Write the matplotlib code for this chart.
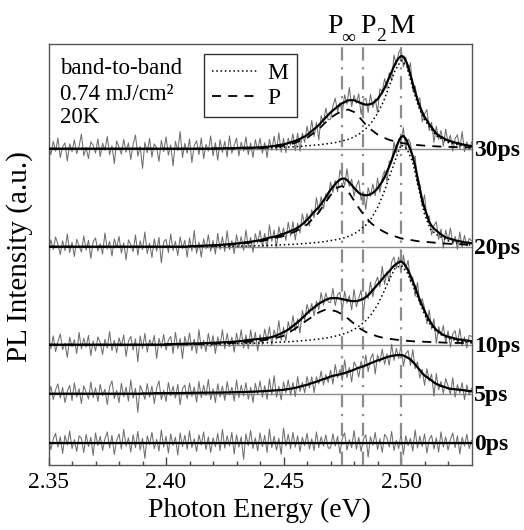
import numpy as np
import matplotlib
matplotlib.use('Agg')
import matplotlib.pyplot as plt

plt.rcParams['font.family'] = ['Liberation Serif', 'DejaVu Serif']

# ---------------- data ----------------
# photon energy grid of the measured spectra (eV), 1 meV steps
energy = np.linspace(2.35, 2.53, 181)
# energy grid of the fitted components (eV)
energy_fit = np.array([
    2.35, 2.36, 2.37, 2.38, 2.39, 2.40, 2.41, 2.42, 2.43, 2.44,
    2.445, 2.45, 2.455, 2.46, 2.465, 2.4675, 2.47, 2.4725, 2.475, 2.4775,
    2.48, 2.4825, 2.485, 2.4875, 2.49, 2.4925, 2.495, 2.4975, 2.50, 2.5025,
    2.505, 2.5075, 2.51, 2.5125, 2.515, 2.52, 2.525, 2.53])

delays = ['30ps', '20ps', '10ps', '5ps', '0ps']
offsets = [6, 4, 2, 1, 0]

# total fit (solid) on the spectrum grid
fit_30 = [0.0] * 70 + [0.005] * 5 + [0.01] * 5 + [
    0.015, 0.015, 0.015, 0.02, 0.02, 0.02, 0.02, 0.02, 0.025, 0.025,
    0.03, 0.03, 0.035, 0.04, 0.045, 0.05, 0.055, 0.065, 0.075, 0.08,
    0.09, 0.10, 0.115, 0.13, 0.145, 0.16, 0.18, 0.20, 0.23, 0.25,
    0.28, 0.32, 0.36, 0.40, 0.44, 0.48, 0.535, 0.59, 0.64, 0.69,
    0.74, 0.78, 0.82, 0.86, 0.90, 0.93, 0.95, 0.98, 0.99, 0.99,
    0.99, 0.97, 0.95, 0.93, 0.91, 0.90, 0.90, 0.91, 0.93, 0.97,
    1.01, 1.08, 1.15, 1.24, 1.35, 1.46, 1.57, 1.68, 1.78, 1.85,
    1.89, 1.88, 1.80, 1.68, 1.51, 1.33, 1.16, 1.00, 0.86, 0.75,
    0.65, 0.58, 0.50, 0.44, 0.37, 0.31, 0.27, 0.24, 0.22, 0.19,
    0.17, 0.155, 0.14, 0.125, 0.115, 0.10, 0.09, 0.08, 0.07, 0.06,
    0.055]
fit_20 = [0.0] * 60 + [
    0.01, 0.01, 0.012, 0.014, 0.016, 0.018, 0.02, 0.022, 0.024, 0.026,
    0.028, 0.03, 0.033, 0.036, 0.04, 0.043, 0.047, 0.051, 0.055, 0.06,
    0.065, 0.07, 0.075, 0.085, 0.09, 0.095, 0.10, 0.11, 0.115, 0.125,
    0.13, 0.145, 0.16, 0.17, 0.185, 0.195, 0.20, 0.215, 0.23, 0.25,
    0.265, 0.28, 0.30, 0.32, 0.34, 0.36, 0.39, 0.42, 0.46, 0.50,
    0.55, 0.60, 0.655, 0.71, 0.76, 0.81, 0.87, 0.94, 1.01, 1.09,
    1.16, 1.22, 1.28, 1.33, 1.37, 1.39, 1.39, 1.36, 1.31, 1.26,
    1.20, 1.15, 1.10, 1.07, 1.055, 1.05, 1.055, 1.07, 1.10, 1.14,
    1.19, 1.26, 1.33, 1.42, 1.53, 1.64, 1.77, 1.90, 2.04, 2.15,
    2.24, 2.26, 2.20, 2.10, 1.98, 1.84, 1.65, 1.42, 1.18, 0.95,
    0.79, 0.65, 0.50, 0.43, 0.37, 0.33, 0.29, 0.25, 0.22, 0.19,
    0.175, 0.16, 0.145, 0.13, 0.12, 0.11, 0.10, 0.09, 0.085, 0.08,
    0.07]
fit_10 = [0.0] * 50 + [
    0.01, 0.01, 0.01, 0.012, 0.014, 0.015, 0.016, 0.017, 0.018, 0.019,
    0.02, 0.02, 0.022, 0.024, 0.026, 0.028, 0.03, 0.03, 0.032, 0.034,
    0.036, 0.038, 0.04, 0.042, 0.045, 0.048, 0.05, 0.053, 0.056, 0.06,
    0.065, 0.07, 0.075, 0.08, 0.09, 0.095, 0.10, 0.105, 0.11, 0.115,
    0.12, 0.125, 0.13, 0.14, 0.145, 0.155, 0.17, 0.19, 0.21, 0.23,
    0.255, 0.28, 0.31, 0.345, 0.38, 0.42, 0.46, 0.50, 0.55, 0.59,
    0.64, 0.69, 0.72, 0.76, 0.80, 0.835, 0.865, 0.89, 0.915, 0.935,
    0.95, 0.95, 0.95, 0.95, 0.94, 0.93, 0.92, 0.91, 0.90, 0.89,
    0.89, 0.89, 0.90, 0.92, 0.94, 0.97, 1.01, 1.06, 1.12, 1.17,
    1.23, 1.28, 1.34, 1.40, 1.45, 1.50, 1.56, 1.61, 1.65, 1.68,
    1.70, 1.67, 1.60, 1.52, 1.41, 1.29, 1.18, 1.04, 0.91, 0.80,
    0.69, 0.59, 0.50, 0.43, 0.36, 0.30, 0.27, 0.23, 0.20, 0.18,
    0.165, 0.15, 0.14, 0.125, 0.11, 0.105, 0.10, 0.09, 0.085, 0.08,
    0.07]
fit_5 = [0.0] * 40 + [
    0.005, 0.005, 0.005, 0.005, 0.005, 0.01, 0.01, 0.01, 0.01, 0.01,
    0.01, 0.01, 0.01, 0.01, 0.012, 0.012, 0.014, 0.014, 0.015, 0.015,
    0.015, 0.016, 0.017, 0.018, 0.019, 0.02, 0.02, 0.02, 0.02, 0.02,
    0.02, 0.022, 0.022, 0.024, 0.024, 0.025, 0.026, 0.028, 0.03, 0.03,
    0.03, 0.03, 0.032, 0.034, 0.035, 0.037, 0.039, 0.04, 0.042, 0.045,
    0.05, 0.05, 0.053, 0.056, 0.06, 0.063, 0.066, 0.07, 0.073, 0.076,
    0.08, 0.087, 0.094, 0.10, 0.11, 0.12, 0.132, 0.145, 0.16, 0.17,
    0.18, 0.20, 0.215, 0.23, 0.245, 0.26, 0.28, 0.30, 0.31, 0.33,
    0.35, 0.365, 0.375, 0.385, 0.395, 0.41, 0.42, 0.44, 0.455, 0.47,
    0.49, 0.51, 0.53, 0.545, 0.56, 0.58, 0.60, 0.62, 0.64, 0.66,
    0.68, 0.69, 0.71, 0.73, 0.745, 0.76, 0.77, 0.78, 0.785, 0.79,
    0.79, 0.78, 0.755, 0.73, 0.70, 0.65, 0.60, 0.54, 0.48, 0.42,
    0.37, 0.34, 0.30, 0.27, 0.23, 0.20, 0.18, 0.16, 0.145, 0.13,
    0.11, 0.10, 0.095, 0.09, 0.085, 0.08, 0.075, 0.07, 0.06, 0.055,
    0.05]
fit_0 = [0.0] * 181

# residual of the measured spectrum around the fit
resid_30 = [
    0.08, -0.12, 0.15, -0.05, 0.22, -0.18, 0.04, 0.12, -0.25, 0.10,
    -0.06, 0.18, -0.10, 0.05, 0.30, -0.14, 0.02, -0.20, 0.14, 0.07,
    -0.09, 0.20, -0.16, 0.11, -0.03, 0.25, -0.12, 0.06, -0.30, 0.16,
    0.03, -0.11, 0.19, -0.07, 0.12, -0.22, 0.09, 0.28, -0.15, 0.05,
    -0.40, 0.13, -0.08, 0.21, -0.17, 0.10, 0.02, -0.26, 0.17, -0.06,
    0.24, -0.13, 0.08, -0.35, 0.15, -0.04, 0.35, -0.18, 0.11, -0.09,
    0.20, -0.28, 0.07, 0.16, -0.12, 0.22, -0.20, 0.09, -0.05, 0.26,
    -0.15, 0.12, -0.24, 0.18, -0.08, 0.14, -0.18, 0.25, -0.10, 0.06,
    0.20, -0.16, 0.12, -0.07, 0.22, -0.14, 0.10, -0.20, 0.16, -0.05,
    0.18, -0.12, 0.09, -0.22, 0.15, -0.08, 0.20, -0.10, 0.25, -0.15,
    0.12, -0.18, 0.10, -0.06, 0.16, -0.20, 0.14, -0.25, 0.09, -0.12,
    0.18, -0.08, 0.22, -0.15, 0.10, -0.30, 0.14, -0.06, 0.19, -0.10,
    -0.14, 0.09, 0.21, -0.11, 0.04, -0.19, 0.15, -0.07, 0.26, -0.13,
    0.10, -0.04, 0.17, -0.23, 0.08, 0.13, -0.16, 0.20, -0.09, 0.05,
    -0.27, 0.14, 0.02, 0.19, -0.12, 0.09, -0.18, 0.23, -0.06, 0.11,
    0.16, -0.21, 0.07, -0.10, 0.24, -0.15, 0.12, -0.03, 0.18, -0.20,
    0.06, 0.22, -0.13, 0.10, -0.24, 0.15, -0.08, 0.13, -0.17, 0.21,
    -0.05, 0.12, -0.19, 0.08, 0.17, -0.11, 0.26, -0.14, 0.07, -0.09,
    0.08]
resid_20 = [
    -0.10, 0.14, -0.06, 0.20, 0.05, -0.16, 0.12, -0.08, 0.26, -0.12,
    0.09, -0.20, 0.15, 0.02, -0.11, 0.22, -0.07, 0.13, -0.24, 0.10,
    0.18, -0.09, 0.06, -0.15, 0.28, -0.05, 0.11, -0.19, 0.16, -0.02,
    0.21, -0.13, 0.08, -0.27, 0.14, 0.04, -0.10, 0.24, -0.17, 0.12,
    -0.06, 0.30, -0.14, 0.07, -0.22, 0.16, -0.09, 0.19, -0.33, 0.10,
    0.15, -0.12, 0.26, -0.08, 0.11, -0.18, 0.20, -0.04, 0.13, -0.21,
    0.17, -0.10, 0.32, -0.15, 0.08, -0.23, 0.14, -0.06, 0.22, -0.12,
    0.10, -0.18, 0.24, -0.09, 0.16, -0.14, 0.28, -0.11, 0.07, -0.20,
    0.18, -0.08, 0.13, -0.16, 0.25, -0.10, 0.09, -0.22, 0.15, -0.05,
    0.20, -0.14, 0.11, -0.19, 0.26, -0.09, 0.14, -0.24, 0.18, -0.07,
    0.12, -0.15, 0.20, -0.10, 0.17, -0.22, 0.09, -0.14, 0.21, -0.06,
    0.13, -0.18, 0.10, -0.12, 0.24, -0.08, 0.15, -0.16, 0.07, -0.11,
    0.16, -0.11, 0.07, -0.21, 0.19, 0.03, -0.14, 0.23, -0.08, 0.12,
    -0.17, 0.09, 0.25, -0.12, 0.06, -0.29, 0.15, -0.04, 0.18, -0.10,
    0.21, -0.15, 0.08, 0.13, -0.20, 0.11, -0.06, 0.24, -0.13, 0.05,
    -0.09, 0.17, -0.22, 0.10, 0.14, -0.07, 0.20, -0.16, 0.09, -0.12,
    0.27, -0.08, 0.13, -0.19, 0.06, 0.18, -0.14, 0.11, -0.25, 0.15,
    -0.05, 0.22, -0.10, 0.08, -0.17, 0.19, -0.11, 0.14, -0.07, 0.09,
    0.05]
resid_10 = [
    0.12, -0.08, 0.18, -0.14, 0.06, 0.22, -0.10, 0.03, -0.26, 0.15,
    -0.04, 0.10, -0.18, 0.25, -0.09, 0.13, -0.05, 0.19, -0.22, 0.08,
    -0.13, 0.16, 0.04, -0.20, 0.11, -0.07, 0.27, -0.12, 0.09, -0.16,
    0.14, -0.03, 0.20, -0.24, 0.07, 0.17, -0.11, 0.12, -0.35, 0.18,
    -0.08, 0.23, -0.15, 0.10, -0.02, 0.19, -0.28, 0.13, -0.06, 0.21,
    -0.12, 0.08, 0.16, -0.19, 0.24, -0.10, 0.11, -0.30, 0.15, -0.05,
    0.22, -0.14, 0.09, -0.20, 0.28, -0.11, 0.06, -0.17, 0.20, -0.08,
    0.15, -0.22, 0.12, -0.06, 0.26, -0.13, 0.18, -0.09, 0.10, -0.21,
    0.17, -0.07, 0.23, -0.15, 0.11, -0.18, 0.20, -0.10, 0.14, -0.24,
    0.09, -0.12, 0.19, -0.06, 0.22, -0.16, 0.13, -0.08, 0.28, -0.14,
    0.10, -0.20, 0.16, -0.09, 0.21, -0.13, 0.07, -0.26, 0.15, -0.10,
    0.18, -0.05, 0.12, -0.17, 0.09, -0.12, 0.20, -0.08, 0.14, -0.06,
    -0.09, 0.20, -0.15, 0.07, 0.13, -0.23, 0.17, -0.06, 0.10, -0.18,
    0.24, -0.12, 0.05, 0.19, -0.28, 0.11, -0.07, 0.22, -0.14, 0.08,
    0.15, -0.10, 0.26, -0.17, 0.04, -0.21, 0.13, 0.18, -0.09, 0.11,
    -0.24, 0.16, -0.05, 0.20, -0.13, 0.09, -0.19, 0.23, -0.08, 0.14,
    0.06, -0.16, 0.21, -0.11, 0.17, -0.27, 0.10, -0.04, 0.19, -0.14,
    0.12, -0.20, 0.08, 0.16, -0.09, 0.22, -0.12, 0.07, -0.15, 0.11,
    0.10]
resid_5 = [
    -0.06, 0.15, -0.12, 0.08, 0.20, -0.09, 0.13, -0.18, 0.05, 0.17,
    -0.14, 0.22, -0.07, 0.10, -0.20, 0.16, 0.03, -0.11, 0.24, -0.08,
    0.12, -0.16, 0.19, -0.04, 0.09, -0.22, 0.14, 0.26, -0.10, 0.07,
    -0.18, 0.21, -0.06, 0.13, -0.15, 0.28, -0.09, 0.11, -0.38, 0.17,
    0.04, -0.12, 0.20, -0.08, 0.15, -0.21, 0.10, 0.25, -0.13, 0.06,
    -0.17, 0.22, -0.05, 0.14, -0.10, 0.18, -0.24, 0.09, 0.16, -0.12,
    0.20, -0.07, 0.12, -0.19, 0.23, -0.10, 0.15, -0.06, 0.27, -0.14,
    0.08, -0.20, 0.18, -0.09, 0.13, -0.16, 0.22, -0.05, 0.10, -0.18,
    0.25, -0.11, 0.14, -0.08, 0.19, -0.15, 0.09, -0.22, 0.17, -0.06,
    0.21, -0.12, 0.11, -0.17, 0.24, -0.09, 0.30, -0.14, 0.08, -0.20,
    0.16, -0.07, 0.19, -0.13, 0.12, -0.18, 0.22, -0.10, 0.07, -0.15,
    0.17, -0.08, 0.13, -0.21, 0.10, -0.06, 0.18, -0.12, 0.08, -0.10,
    0.13, -0.17, 0.22, -0.06, 0.10, -0.14, 0.27, -0.11, 0.08, -0.23,
    0.16, 0.04, -0.19, 0.12, -0.08, 0.21, -0.15, 0.09, 0.18, -0.26,
    0.11, -0.05, 0.20, -0.13, 0.07, -0.18, 0.24, -0.10, 0.14, -0.07,
    0.19, -0.22, 0.06, 0.15, -0.12, 0.25, -0.09, 0.11, -0.16, 0.08,
    -0.20, 0.17, -0.04, 0.13, -0.28, 0.21, -0.10, 0.09, -0.14, 0.18,
    0.05, -0.11, 0.23, -0.16, 0.10, -0.07, 0.15, -0.19, 0.12, -0.08,
    0.06]
resid_0 = [
    0.10, -0.14, 0.07, 0.19, -0.09, 0.12, -0.22, 0.15, -0.05, 0.24,
    -0.12, 0.06, -0.18, 0.14, 0.09, -0.20, 0.17, -0.08, 0.11, -0.26,
    0.20, -0.06, 0.13, -0.16, 0.08, 0.22, -0.11, 0.15, -0.24, 0.05,
    0.18, -0.13, 0.27, -0.07, 0.10, -0.19, 0.16, -0.10, 0.23, -0.15,
    0.09, -0.32, 0.14, -0.04, 0.21, -0.12, 0.07, -0.17, 0.26, -0.09,
    0.13, -0.21, 0.18, -0.06, 0.11, -0.25, 0.20, -0.08, 0.15, -0.13,
    0.24, -0.10, 0.08, -0.18, 0.16, -0.05, 0.22, -0.14, 0.12, -0.20,
    0.10, -0.08, 0.19, -0.16, 0.27, -0.11, 0.14, -0.07, 0.21, -0.23,
    0.16, -0.09, 0.12, -0.34, 0.18, -0.06, 0.25, -0.12, 0.10, -0.17,
    0.20, -0.08, 0.15, -0.20, 0.28, -0.10, 0.13, -0.15, 0.09, -0.24,
    0.30, -0.07, 0.17, -0.12, 0.21, -0.09, 0.14, -0.18, 0.11, -0.06,
    0.19, -0.13, 0.08, -0.16, 0.22, -0.10, 0.12, -0.07, 0.16, -0.11,
    -0.11, 0.18, -0.07, 0.13, -0.22, 0.09, 0.20, -0.15, 0.06, -0.10,
    0.25, -0.13, 0.11, -0.18, 0.07, 0.16, -0.29, 0.12, -0.05, 0.21,
    -0.14, 0.08, -0.20, 0.17, 0.10, -0.09, 0.23, -0.16, 0.05, -0.12,
    0.19, -0.24, 0.14, -0.06, 0.09, -0.17, 0.26, -0.11, 0.13, -0.08,
    0.18, -0.21, 0.07, 0.15, -0.13, 0.10, -0.19, 0.22, -0.09, 0.12,
    -0.15, 0.06, 0.20, -0.10, 0.14, -0.23, 0.11, -0.07, 0.17, -0.12,
    0.05]

# fitted components: M (dotted) and P (dashed), for 30, 20, 10 ps
m_30 = [0, 0, 0, 0, 0, 0, 0, 0.005, 0.01, 0.015,
        0.02, 0.03, 0.04, 0.06, 0.08, 0.095, 0.11, 0.13, 0.16, 0.19,
        0.24, 0.31, 0.41, 0.54, 0.72, 0.96, 1.28, 1.60, 1.80, 1.68,
        1.23, 0.85, 0.59, 0.42, 0.26, 0.13, 0.07, 0.03]
p_30 = [0, 0, 0, 0, 0, 0, 0, 0, 0.005, 0.01,
        0.03, 0.06, 0.12, 0.22, 0.40, 0.52, 0.63, 0.71, 0.77, 0.80,
        0.75, 0.63, 0.49, 0.38, 0.29, 0.23, 0.18, 0.15, 0.12, 0.10,
        0.085, 0.073, 0.063, 0.055, 0.048, 0.038, 0.03, 0.025]
m_20 = [0, 0, 0, 0, 0, 0, 0, 0.005, 0.01, 0.02,
        0.03, 0.04, 0.05, 0.07, 0.09, 0.105, 0.125, 0.145, 0.17, 0.21,
        0.26, 0.34, 0.44, 0.59, 0.80, 1.08, 1.42, 1.76, 2.08, 2.00,
        1.72, 1.19, 0.66, 0.36, 0.25, 0.12, 0.06, 0.03]
p_20 = [0, 0, 0, 0, 0, 0, 0, 0.02, 0.05, 0.11,
        0.16, 0.22, 0.31, 0.45, 0.70, 0.88, 1.05, 1.20, 1.24, 1.13,
        0.94, 0.76, 0.60, 0.47, 0.38, 0.31, 0.25, 0.21, 0.17, 0.15,
        0.13, 0.11, 0.10, 0.09, 0.08, 0.06, 0.05, 0.04]
m_10 = [0, 0, 0, 0, 0, 0.005, 0.01, 0.015, 0.022, 0.035,
        0.045, 0.055, 0.07, 0.089, 0.115, 0.132, 0.153, 0.18, 0.213, 0.256,
        0.31, 0.39, 0.49, 0.63, 0.815, 1.06, 1.33, 1.56, 1.62, 1.48,
        1.22, 0.92, 0.62, 0.40, 0.27, 0.13, 0.07, 0.04]
p_10 = [0, 0, 0, 0, 0, 0, 0.01, 0.02, 0.04, 0.08,
        0.12, 0.18, 0.33, 0.50, 0.66, 0.71, 0.71, 0.68, 0.62, 0.53,
        0.43, 0.33, 0.26, 0.21, 0.17, 0.14, 0.12, 0.105, 0.09, 0.08,
        0.07, 0.065, 0.06, 0.055, 0.05, 0.04, 0.035, 0.03]

# line positions P_inf, P_2, M (eV)
peak_energies = [2.475, 2.484, 2.500]

fits = [fit_30, fit_20, fit_10, fit_5, fit_0]
resids = [resid_30, resid_20, resid_10, resid_5, resid_0]
components = [(6, m_30, p_30), (4, m_20, p_20), (2, m_10, p_10)]

# ---------------- plot ----------------
fig = plt.figure(figsize=(5.24, 5.30), dpi=100)
ax = fig.add_axes([0.0926, 0.1221, 0.8073, 0.7943])

for label, off, fit, res in zip(delays, offsets, fits, resids):
    fit = np.array(fit)
    ax.axhline(off, color='#8a8a8a', lw=1.0, zorder=1)
    ax.plot(energy, off + fit + np.array(res), color='#6e6e6e', lw=0.75, zorder=2)
    ax.plot(energy, off + fit, color='black', lw=1.6, zorder=5)
    ax.annotate(label, xy=(1, off), xycoords=('axes fraction', 'data'),
                xytext=(1.5, -5.5), textcoords='offset points',
                ha='left', va='baseline', fontsize=17, fontweight='bold',
                annotation_clip=False)

handles = []
for off, m, p in components:
    hm, = ax.plot(energy_fit, off + np.array(m), color='black', lw=1.1,
                  ls=(0, (1, 1.8)), zorder=4)
    hp, = ax.plot(energy_fit, off + np.array(p), color='black', lw=1.3,
                  ls=(0, (5, 4)), zorder=4)
    handles = [hm, hp]

for e in peak_energies:
    ax.axvline(e, color='#8c8c8c', lw=1.6, ls=(0, (6, 3, 1, 3)), zorder=3)

# labels of the vertical lines above the frame
top_kw = dict(xycoords=('data', 'axes fraction'), textcoords='offset points',
              va='baseline', ha='left', annotation_clip=False)
ax.annotate('P', xy=(peak_energies[0], 1), xytext=(-11.2, 7.9), fontsize=20, **top_kw)
ax.annotate('\u221e', xy=(peak_energies[0], 1), xytext=(-0.4, 0.6), fontsize=14, **top_kw)
ax.annotate('P', xy=(peak_energies[1], 1), xytext=(-2.4, 7.9), fontsize=20, **top_kw)
ax.annotate('2', xy=(peak_energies[1], 1), xytext=(9.1, 2.4), fontsize=14, **top_kw)
ax.annotate('M', xy=(peak_energies[2], 1), xytext=(-8.3, 7.9), fontsize=20.5, **top_kw)

ax.text(0.027, 0.9295, 'band-to-band', transform=ax.transAxes, fontsize=16.5)
ax.text(0.027, 0.8677, '0.74 mJ/cm\u00b2', transform=ax.transAxes, fontsize=16.5)
ax.text(0.027, 0.8131, '20K', transform=ax.transAxes, fontsize=16.5)

leg = ax.legend(handles, ['M', 'P'], loc='upper left', bbox_to_anchor=(0.3676, 0.977),
                borderaxespad=0, fontsize=17, handlelength=1.9, handletextpad=0.45,
                labelspacing=0.15, borderpad=0.35, fancybox=False, framealpha=1,
                edgecolor='#333333')
leg.get_frame().set_linewidth(1.0)
leg.set_zorder(10)

ax.set_xlim(2.35, 2.53)
ax.set_ylim(-0.461, 8.131)
ax.set_xticks([2.35, 2.40, 2.45, 2.50])
ax.set_xticklabels(['2.35', '2.40', '2.45', '2.50'])
ax.set_xticks(np.arange(2.36, 2.53, 0.01), minor=True)
ax.set_yticks([])
ax.tick_params(axis='x', which='major', direction='in', length=6, width=1,
               labelsize=17, pad=4.5, color='#444444')
ax.tick_params(axis='x', which='minor', direction='in', length=3, width=1,
               color='#444444')
for sp in ax.spines.values():
    sp.set_color('#555555')
    sp.set_linewidth(1.0)

fig.text(20 / 524, 1 - 256.5 / 530, 'PL Intensity (a.u.)', rotation=90,
         ha='center', va='center', fontsize=21)
fig.text(0.4943, 0.0251, 'Photon Energy (eV)', ha='center', va='baseline', fontsize=20)

fig.savefig('out.png', dpi=100)
